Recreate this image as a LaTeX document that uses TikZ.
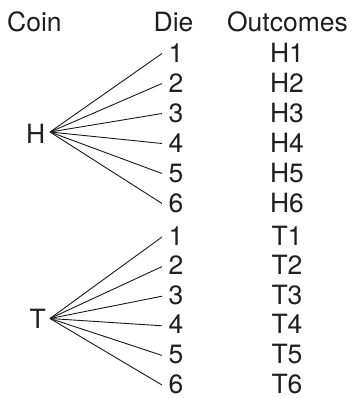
\documentclass[tikz,border=0pt]{standalone}
\usepackage{fontspec}
\setmainfont{TeX Gyre Heros}
\begin{document}
\begin{tikzpicture}[x=1pt,y=-1pt,
  lbl/.style={inner sep=0pt, font=\fontsize{26.5}{30}\selectfont, text=black!88},
  branch/.style={line width=0.9pt, black!90}]
\useasboundingbox (0,0) rectangle (353,398);
% headers
\node[lbl, anchor=base west] (coin) at (7,31.5) {Coin};
\node[lbl, anchor=base] (die) at (173.5,31.5) {Die};
\node[lbl, anchor=base] (out) at (287.5,31.5) {Outcomes};
% coin nodes
\node[lbl, anchor=base east] (H) at (45.5,143) {H};
\node[lbl, anchor=base east] (T) at (46,328.5) {T};
\coordinate (Hapex) at (50,132);
\coordinate (Tapex) at (50,318.5);
% die outcomes
\foreach \k in {1,...,6}{
  \pgfmathsetmacro{\yh}{62.5+30*(\k-1)}
  \pgfmathsetmacro{\yt}{245+29.6*(\k-1)}
  \node[lbl, anchor=base] (h\k) at (176,\yh) {\k};
  \node[lbl, anchor=base] (oh\k) at (287,\yh) {H\k};
  \coordinate (he\k) at (162,\yh-9);
  \node[lbl, anchor=base] (t\k) at (176,\yt) {\k};
  \node[lbl, anchor=base] (ot\k) at (287,\yt) {T\k};
  \coordinate (te\k) at (162,\yt-8);
  \draw[branch] (Hapex) -- (he\k);
  \draw[branch] (Tapex) -- (te\k);
}
\end{tikzpicture}
\end{document}
